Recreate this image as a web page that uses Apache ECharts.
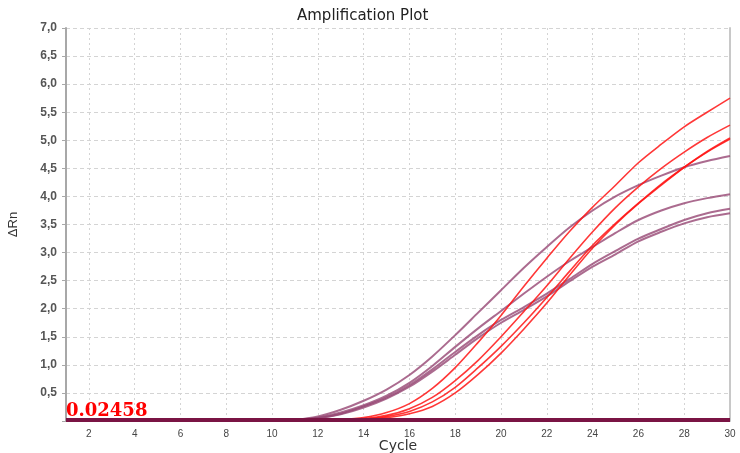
<!DOCTYPE html>
<html>
<head>
<meta charset="utf-8">
<script src="https://cdn.jsdelivr.net/npm/echarts@6/dist/echarts.min.js"></script>
<style>
html,body{margin:0;padding:0;background:#fff;}
#chart{width:740px;height:453px;}
</style>
</head>
<body>
<div id="chart"></div>
<script>
const cycles = Array.from({length: 30}, (_, i) => String(i + 1));
const yTicks = [0, 0.5, 1, 1.5, 2, 2.5, 3, 3.5, 4, 4.5, 5, 5.5, 6, 6.5, 7];
const threshold = 0.02458;

// purple (mauve) curves
const p1 = [0,0,0,0,0,0,0,0,0,0,0.02,0.08,0.2,0.36,0.56,0.82,1.15,1.53,1.93,2.33,2.73,3.1,3.45,3.75,4.0,4.2,4.37,4.52,4.63,4.72];
const p2 = [0,0,0,0,0,0,0,0,0,0,0.02,0.06,0.15,0.28,0.45,0.68,0.98,1.32,1.65,1.96,2.27,2.57,2.85,3.1,3.35,3.58,3.75,3.88,3.97,4.04];
const p3 = [0,0,0,0,0,0,0,0,0,0,0.02,0.05,0.13,0.26,0.42,0.64,0.92,1.23,1.53,1.8,2.03,2.27,2.53,2.8,3.03,3.25,3.42,3.58,3.7,3.78];
const p4 = [0,0,0,0,0,0,0,0,0,0,0.02,0.05,0.12,0.24,0.4,0.61,0.88,1.18,1.48,1.75,1.98,2.22,2.49,2.75,2.97,3.2,3.37,3.52,3.63,3.7];
// red curves
const r1 = [0,0,0,0,0,0,0,0,0,0,0,0,0.02,0.06,0.15,0.31,0.58,0.95,1.4,1.88,2.4,2.9,3.38,3.81,4.2,4.6,4.93,5.24,5.5,5.75];
const r2 = [0,0,0,0,0,0,0,0,0,0,0,0,0.01,0.04,0.1,0.22,0.42,0.72,1.08,1.5,1.95,2.41,2.9,3.37,3.8,4.17,4.5,4.79,5.05,5.27];
const r3 = [0,0,0,0,0,0,0,0,0,0,0,0,0,0.03,0.08,0.17,0.34,0.6,0.95,1.33,1.75,2.2,2.67,3.13,3.52,3.88,4.22,4.52,4.8,5.04];
const r4 = [0,0,0,0,0,0,0,0,0,0,0,0,0,0.02,0.06,0.13,0.26,0.5,0.83,1.21,1.64,2.1,2.6,3.08,3.5,3.87,4.2,4.52,4.79,5.02];

const purple = 'rgba(150,70,115,0.8)';
const red = 'rgba(255,20,20,0.85)';

function curve(data, color, width) {
  return {
    type: 'line', data: data, symbol: 'none', smooth: 0.3,
    lineStyle: {color: color, width: width}, silent: true, z: 2
  };
}

const chart = echarts.init(document.getElementById('chart'));
chart.setOption({
  animation: false,
  backgroundColor: '#fff',
  title: {
    text: 'Amplification Plot', left: 292, top: 4,
    textStyle: {fontFamily: 'DejaVu Sans', fontSize: 15, fontWeight: 'normal', color: '#222'}
  },
  grid: {left: 66, right: 10, top: 28, bottom: 32, containLabel: false, outerBoundsMode: 'none'},
  xAxis: {
    type: 'category', data: cycles, boundaryGap: false,
    name: 'Cycle', nameLocation: 'middle', nameGap: 18, nameMoveOverlap: false,
    nameTextStyle: {fontFamily: 'DejaVu Sans', fontSize: 14, color: '#333'},
    axisLine: {show: false},
    axisTick: {show: false},
    axisLabel: {
      interval: (i, v) => Number(v) % 2 === 0,
      fontFamily: 'Liberation Sans', fontSize: 10, color: '#444', margin: 8
    },
    splitLine: {
      show: true, interval: (i, v) => Number(v) % 2 === 0,
      lineStyle: {color: '#d4d4d4', type: [2, 3], width: 1}
    }
  },
  yAxis: [{
    type: 'value', min: 0, max: 7, interval: 0.5,
    name: 'ΔRn', nameLocation: 'middle', nameGap: 46, nameMoveOverlap: false,
    nameTextStyle: {fontFamily: 'Liberation Sans', fontSize: 13, color: '#333'},
    axisLine: {show: true, lineStyle: {color: '#a8a8a8', width: 2}},
    axisTick: {show: true, length: 4, lineStyle: {color: '#a8a8a8'}},
    axisLabel: {
      formatter: v => (v === 0 ? '' : v.toFixed(1).replace('.', ',')),
      fontFamily: 'Liberation Sans', fontSize: 12, fontWeight: 'bold', color: '#555', margin: 9
    },
    splitLine: {show: true, lineStyle: {color: '#d4d4d4', type: [4, 3], width: 1}}
  }, {
    type: 'value', min: 0, max: 7, interval: 0.5, position: 'right',
    axisLine: {show: true, lineStyle: {color: '#c8c8c8', width: 2}},
    axisTick: {show: false}, axisLabel: {show: false}, splitLine: {show: false}
  }],
  series: [
    curve(p1, purple, 2), curve(p2, purple, 2), curve(p3, purple, 2), curve(p4, purple, 2),
    curve(r1, red, 1.6), curve(r2, red, 1.6), curve(r3, red, 1.6), curve(r4, red, 1.6),
    {
      type: 'line', data: [], silent: true, z: 5,
      markLine: {
        silent: true, symbol: 'none', animation: false,
        lineStyle: {color: '#7a1444', width: 4, type: 'solid'},
        label: {
          show: true, position: 'insideStartTop', distance: [0, 0],
          formatter: () => String(threshold),
          fontFamily: 'DejaVu Serif', fontSize: 18, fontWeight: 'bold', color: '#ff0000'
        },
        data: [{yAxis: threshold}]
      }
    }
  ]
});
</script>
</body>
</html>
